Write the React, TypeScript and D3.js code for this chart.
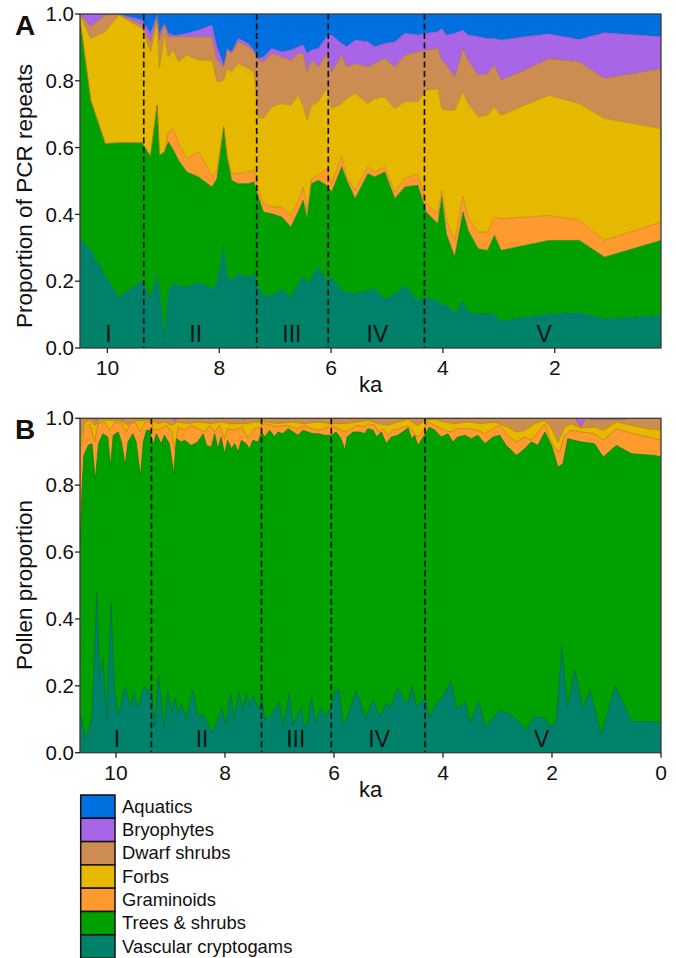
import React from "react";
import * as d3 from "d3";

// ---------- categories / styling ----------
const taxa = ["Aquatics", "Bryophytes", "Dwarf shrubs", "Forbs", "Graminoids", "Trees & shrubs", "Vascular cryptogams"];
const taxaColors = ["#0070e0", "#a866e6", "#cc8c52", "#e6b800", "#ff9a2e", "#00a000", "#00826a"];

const zoneLabels = ["I", "II", "III", "IV", "V"];
const zoneLabelKa = [9.98, 8.42, 6.7, 5.17, 2.19];
const zoneBoundsKa = [9.35, 7.33, 6.05, 4.33];

const yTicks = [0, 0.2, 0.4, 0.6, 0.8, 1.0];
const xTicksA = [10, 8, 6, 4, 2];
const xTicksB = [10, 8, 6, 4, 2, 0];

// ---------- Panel A: proportion of PCR repeats (per taxon) ----------
const pcrKa = [10.49, 10.3, 10.04, 9.8, 9.38, 9.23, 9.11, 9.07, 8.98, 8.91, 8.82, 8.73, 8.58, 8.37, 8.13, 8.04, 7.92, 7.86, 7.78, 7.66, 7.48, 7.38, 7.3, 7.21, 7.06, 6.88, 6.72, 6.59, 6.5, 6.43, 6.35, 6.23, 6.08, 5.99, 5.81, 5.72, 5.57, 5.34, 5.22, 5.04, 4.86, 4.68, 4.45, 4.3, 4.09, 4.02, 3.94, 3.79, 3.64, 3.55, 3.37, 3.2, 3.08, 2.96, 2.54, 2.1, 1.56, 1.11, 0.1];
const pcrVascular = [0.328, 0.293, 0.217, 0.152, 0.202, 0.152, 0.217, 0.172, 0.032, 0.172, 0.192, 0.187, 0.182, 0.197, 0.177, 0.197, 0.302, 0.212, 0.202, 0.222, 0.212, 0.222, 0.182, 0.157, 0.157, 0.177, 0.152, 0.192, 0.217, 0.192, 0.212, 0.242, 0.202, 0.212, 0.172, 0.167, 0.162, 0.172, 0.177, 0.147, 0.162, 0.187, 0.142, 0.152, 0.142, 0.127, 0.132, 0.102, 0.142, 0.107, 0.102, 0.102, 0.1, 0.082, 0.092, 0.102, 0.107, 0.087, 0.097];
const pcrTrees = [0.652, 0.449, 0.395, 0.462, 0.412, 0.422, 0.51, 0.405, 0.555, 0.445, 0.4, 0.375, 0.345, 0.315, 0.305, 0.31, 0.36, 0.36, 0.3, 0.27, 0.28, 0.275, 0.27, 0.25, 0.245, 0.215, 0.21, 0.215, 0.225, 0.195, 0.28, 0.26, 0.285, 0.255, 0.37, 0.335, 0.285, 0.35, 0.335, 0.38, 0.285, 0.295, 0.345, 0.255, 0.23, 0.325, 0.21, 0.17, 0.265, 0.245, 0.195, 0.19, 0.237, 0.21, 0.215, 0.22, 0.215, 0.185, 0.225];
const pcrGraminoids = [0, 0, 0, 0, 0, 0, 0, 0, 0, 0.03, 0.065, 0.05, 0.04, 0.075, 0.035, 0.025, 0, 0, 0.02, 0.03, 0.035, 0.035, 0.02, 0.025, 0.02, 0.03, 0.035, 0.03, 0.04, 0.025, 0.015, 0.015, 0.05, 0.025, 0.03, 0.01, 0.025, 0.02, 0.015, 0.015, 0.02, 0.025, 0.035, 0.025, 0.03, 0.02, 0.04, 0.05, 0.045, 0.04, 0.05, 0.055, 0.055, 0.095, 0.085, 0.075, 0.06, 0.05, 0.055];
const pcrForbs = [0.015, 0.185, 0.335, 0.383, 0.343, 0.313, 0.248, 0.26, 0.353, 0.225, 0.235, 0.245, 0.31, 0.275, 0.345, 0.265, 0.14, 0.265, 0.305, 0.33, 0.31, 0.295, 0.22, 0.255, 0.3, 0.31, 0.33, 0.32, 0.245, 0.27, 0.22, 0.22, 0.24, 0.225, 0.16, 0.235, 0.29, 0.19, 0.22, 0.21, 0.25, 0.23, 0.215, 0.34, 0.375, 0.245, 0.33, 0.39, 0.315, 0.34, 0.345, 0.35, 0.33, 0.31, 0.335, 0.36, 0.35, 0.365, 0.28];
const pcrDwarfShrubs = [0.005, 0.035, 0.05, 0.003, 0.01, 0.03, 0.015, 0.085, 0.027, 0.06, 0.04, 0.075, 0.055, 0.07, 0.07, 0.065, 0.04, 0.055, 0.055, 0.065, 0.065, 0.06, 0.17, 0.17, 0.16, 0.14, 0.135, 0.125, 0.155, 0.145, 0.135, 0.105, 0.105, 0.11, 0.145, 0.095, 0.09, 0.11, 0.105, 0.115, 0.125, 0.14, 0.15, 0.12, 0.12, 0.145, 0.135, 0.1, 0.13, 0.13, 0.125, 0.125, 0.125, 0.105, 0.105, 0.11, 0.125, 0.12, 0.18];
const pcrBryophytes = [0, 0.038, 0.003, 0, 0.015, 0.025, 0.008, 0.02, 0.005, 0.01, 0.005, 0.005, 0.01, 0.02, 0.035, 0.04, 0.005, 0.005, 0.005, 0.01, 0.01, 0.005, 0.005, 0.015, 0.015, 0.015, 0.03, 0.02, 0.025, 0.055, 0.03, 0.055, 0.05, 0.11, 0.035, 0.06, 0.07, 0.075, 0.05, 0.045, 0.075, 0.065, 0.05, 0.05, 0.05, 0.095, 0.09, 0.13, 0.055, 0.075, 0.115, 0.105, 0.08, 0.12, 0.1, 0.073, 0.067, 0.137, 0.095];
const pcrAquatics = [0, 0, 0, 0, 0.018, 0.058, 0.002, 0.058, 0.028, 0.058, 0.063, 0.063, 0.058, 0.048, 0.033, 0.098, 0.153, 0.103, 0.113, 0.073, 0.088, 0.108, 0.133, 0.128, 0.103, 0.113, 0.108, 0.098, 0.093, 0.118, 0.108, 0.103, 0.068, 0.063, 0.088, 0.098, 0.078, 0.083, 0.098, 0.088, 0.083, 0.058, 0.063, 0.058, 0.053, 0.043, 0.063, 0.058, 0.048, 0.063, 0.068, 0.073, 0.073, 0.078, 0.068, 0.06, 0.076, 0.056, 0.068];

// ---------- Panel B: pollen proportion (cumulative upper edge of each taxon band) ----------
const pollenVascularKa = [10.66, 10.56, 10.44, 10.35, 10.3, 10.24, 10.17, 10.09, 10.03, 9.96, 9.83, 9.74, 9.67, 9.6, 9.48, 9.41, 9.35, 9.29, 9.22, 9.12, 9.05, 8.98, 8.91, 8.86, 8.81, 8.71, 8.59, 8.5, 8.4, 8.23, 8.06, 7.99, 7.89, 7.83, 7.74, 7.68, 7.61, 7.54, 7.48, 7.37, 7.32, 7.27, 7.19, 7.13, 7.01, 6.93, 6.82, 6.75, 6.69, 6.6, 6.55, 6.49, 6.41, 6.34, 6.25, 6.17, 6.1, 6.05, 5.98, 5.91, 5.84, 5.76, 5.59, 5.42, 5.28, 5.16, 5.04, 4.97, 4.83, 4.7, 4.63, 4.57, 4.49, 4.33, 4.25, 4.12, 3.98, 3.86, 3.74, 3.6, 3.5, 3.35, 3.22, 2.95, 2.71, 2.48, 2.32, 2.13, 2.02, 1.92, 1.82, 1.72, 1.58, 1.44, 1.3, 1.1, 0.84, 0.54, 0.14, 0];
const pollenVascularTop = [0.12, 0.04, 0.103, 0.482, 0.217, 0.282, 0.103, 0.447, 0.187, 0.113, 0.197, 0.138, 0.177, 0.133, 0.199, 0.177, 0.197, 0.078, 0.232, 0.073, 0.187, 0.123, 0.163, 0.113, 0.148, 0.103, 0.187, 0.108, 0.113, 0.058, 0.133, 0.083, 0.177, 0.098, 0.182, 0.123, 0.177, 0.138, 0.172, 0.128, 0.167, 0.098, 0.108, 0.118, 0.153, 0.078, 0.177, 0.078, 0.108, 0.133, 0.078, 0.088, 0.167, 0.088, 0.133, 0.108, 0.123, 0.133, 0.187, 0.187, 0.088, 0.103, 0.187, 0.103, 0.158, 0.108, 0.148, 0.133, 0.192, 0.153, 0.153, 0.199, 0.138, 0.163, 0.103, 0.148, 0.172, 0.217, 0.128, 0.153, 0.088, 0.153, 0.078, 0.128, 0.108, 0.068, 0.108, 0.103, 0.078, 0.093, 0.317, 0.133, 0.247, 0.133, 0.187, 0.053, 0.199, 0.093, 0.093, 0.09];

const pollenTreesKa = [10.66, 10.62, 10.59, 10.51, 10.44, 10.38, 10.32, 10.24, 10.15, 10.1, 10.05, 9.96, 9.9, 9.83, 9.78, 9.69, 9.63, 9.55, 9.5, 9.44, 9.38, 9.32, 9.26, 9.17, 9.11, 9.02, 8.94, 8.89, 8.8, 8.74, 8.62, 8.5, 8.4, 8.34, 8.25, 8.19, 8.13, 8.07, 8.01, 7.95, 7.88, 7.82, 7.76, 7.7, 7.61, 7.55, 7.49, 7.39, 7.33, 7.27, 7.18, 7.09, 7.03, 6.94, 6.84, 6.75, 6.66, 6.57, 6.48, 6.39, 6.29, 6.17, 6.05, 5.96, 5.87, 5.8, 5.76, 5.65, 5.53, 5.44, 5.38, 5.28, 5.22, 5.13, 5.04, 4.95, 4.83, 4.7, 4.64, 4.58, 4.52, 4.46, 4.4, 4.32, 4.25, 4.15, 4.03, 3.91, 3.82, 3.73, 3.6, 3.48, 3.36, 3.23, 3.08, 2.96, 2.84, 2.65, 2.5, 2.38, 2.26, 2.13, 2.01, 1.89, 1.8, 1.71, 1.46, 1.22, 1.06, 0.82, 0.54, 0.12, 0];
const pollenTreesTop = [0.63, 0.8, 0.889, 0.919, 0.924, 0.815, 0.924, 0.954, 0.944, 0.854, 0.949, 0.959, 0.929, 0.859, 0.929, 0.954, 0.929, 0.825, 0.929, 0.964, 0.964, 0.919, 0.954, 0.924, 0.949, 0.924, 0.834, 0.939, 0.929, 0.934, 0.919, 0.929, 0.954, 0.919, 0.914, 0.954, 0.909, 0.944, 0.894, 0.934, 0.909, 0.924, 0.899, 0.934, 0.924, 0.909, 0.934, 0.929, 0.959, 0.944, 0.964, 0.944, 0.959, 0.954, 0.969, 0.959, 0.949, 0.964, 0.959, 0.954, 0.954, 0.949, 0.949, 0.959, 0.939, 0.904, 0.944, 0.959, 0.959, 0.954, 0.969, 0.964, 0.944, 0.959, 0.924, 0.944, 0.949, 0.964, 0.971, 0.939, 0.949, 0.919, 0.934, 0.954, 0.974, 0.964, 0.944, 0.954, 0.929, 0.944, 0.949, 0.939, 0.949, 0.924, 0.944, 0.949, 0.919, 0.889, 0.909, 0.929, 0.919, 0.959, 0.919, 0.854, 0.864, 0.939, 0.929, 0.924, 0.884, 0.919, 0.894, 0.889, 0.884];

const pollenGraminoidsKa = [10.66, 10.57, 10.48, 10.39, 10.33, 10.21, 10.12, 10.02, 9.9, 9.81, 9.72, 9.63, 9.55, 9.47, 9.35, 9.29, 9.17, 9.08, 8.98, 8.92, 8.86, 8.74, 8.62, 8.5, 8.37, 8.28, 8.19, 8.1, 8.01, 7.95, 7.82, 7.7, 7.58, 7.46, 7.36, 7.27, 7.15, 7.03, 6.9, 6.78, 6.66, 6.54, 6.42, 6.29, 6.17, 6.05, 5.93, 5.8, 5.68, 5.56, 5.44, 5.38, 5.25, 5.19, 5.1, 5.01, 4.92, 4.8, 4.7, 4.64, 4.58, 4.46, 4.37, 4.28, 4.15, 3.97, 3.85, 3.73, 3.54, 3.36, 3.23, 3.08, 2.96, 2.81, 2.65, 2.5, 2.38, 2.26, 2.13, 2.04, 1.95, 1.86, 1.77, 1.65, 1.46, 1.22, 1.06, 0.82, 0.54, 0];
const pollenGraminoidsTop = [0.905, 0.969, 0.984, 0.929, 0.984, 0.989, 0.964, 0.989, 0.984, 0.959, 0.989, 0.984, 0.959, 0.989, 0.989, 0.964, 0.969, 0.979, 0.959, 0.904, 0.974, 0.964, 0.979, 0.969, 0.959, 0.979, 0.959, 0.979, 0.939, 0.969, 0.964, 0.974, 0.939, 0.969, 0.974, 0.984, 0.979, 0.974, 0.979, 0.974, 0.969, 0.979, 0.969, 0.964, 0.969, 0.979, 0.969, 0.959, 0.969, 0.979, 0.974, 0.984, 0.979, 0.959, 0.969, 0.949, 0.964, 0.969, 0.974, 0.978, 0.964, 0.944, 0.959, 0.989, 0.979, 0.964, 0.959, 0.969, 0.969, 0.964, 0.954, 0.969, 0.979, 0.949, 0.929, 0.944, 0.934, 0.959, 0.984, 0.939, 0.909, 0.899, 0.949, 0.964, 0.959, 0.954, 0.934, 0.969, 0.955, 0.935];

const pollenForbsKa = [10.66, 10.57, 10.48, 10.39, 10.27, 10.09, 9.9, 9.78, 9.66, 9.47, 9.35, 9.23, 9.11, 8.98, 8.86, 8.68, 8.5, 8.25, 8.07, 7.88, 7.64, 7.46, 7.27, 7.03, 6.78, 6.54, 6.29, 6.05, 5.8, 5.56, 5.38, 5.19, 5.01, 4.83, 4.64, 4.46, 4.31, 4.15, 3.97, 3.79, 3.54, 3.3, 3.05, 2.81, 2.65, 2.5, 2.32, 2.13, 2.01, 1.89, 1.77, 1.65, 1.46, 1.22, 1.06, 0.82, 0.54, 0.24, 0];
const pollenForbsTop = [0.93, 0.989, 0.994, 0.979, 0.994, 0.994, 0.991, 0.981, 0.991, 0.994, 0.994, 0.984, 0.989, 0.979, 0.989, 0.984, 0.989, 0.984, 0.989, 0.984, 0.984, 0.989, 0.989, 0.984, 0.989, 0.984, 0.989, 0.984, 0.984, 0.989, 0.994, 0.984, 0.979, 0.989, 0.997, 0.979, 0.994, 0.997, 0.989, 0.984, 0.989, 0.984, 0.989, 0.974, 0.959, 0.964, 0.984, 0.994, 0.969, 0.929, 0.974, 0.984, 0.97, 0.974, 0.964, 0.989, 0.979, 0.969, 0.965];

const pollenDwarfKa = [10.66, 10.4, 10.36, 10.32, 9.92, 9.88, 9.84, 8.96, 8.92, 8.88, 7.7, 7.66, 7.62, 1.58, 1.47, 1.38, 1.25, 0.7, 0.6, 0];
const pollenDwarfTop = [1, 1, 0.993, 1, 1, 0.994, 1, 1, 0.99, 1, 1, 0.995, 1, 1, 0.975, 1, 0.996, 0.996, 1, 1];

const pollenBryoKa = [10.66, 0];
const pollenBryoTop = [1, 1];

// ---------- layout ----------
const FONT = "'Liberation Sans', Arial, Helvetica, sans-serif";
const PA = { left: 80, right: 661, top: 14, bottom: 348 };
const PB = { left: 80, right: 661, top: 418.3, bottom: 752.7 };

function colorOf(name: string) {
  return taxaColors[taxa.indexOf(name)];
}
function darker(c: string, k = 0.8) {
  return d3.color(c)!.darker(k).formatHex();
}

function Axes({ p, x, y, xTicks, yTitle, letter, titleY }: any) {
  const cx = (p.left + p.right) / 2;
  return (
    <g fontFamily={FONT} fill="#111">
      {zoneBoundsKa.map((k, i) => (
        <line key={"d" + i} x1={x(k)} x2={x(k)} y1={p.top} y2={p.bottom} stroke="#111" strokeWidth={1.7} strokeDasharray="6,3.5" />
      ))}
      {zoneLabels.map((t, i) => (
        <text key={"z" + i} x={x(zoneLabelKa[i])} y={p.bottom - 6} fontSize={23} textAnchor="middle">{t}</text>
      ))}
      <rect x={p.left} y={p.top} width={p.right - p.left} height={p.bottom - p.top} fill="none" stroke="#3a3a3a" strokeWidth={1.3} />
      {yTicks.map((t) => (
        <g key={"y" + t}>
          <line x1={p.left - 5} x2={p.left} y1={y(t)} y2={y(t)} stroke="#222" strokeWidth={1.3} />
          <text x={p.left - 6} y={y(t)} dy="0.35em" fontSize={20.5} textAnchor="end">{t.toFixed(1)}</text>
        </g>
      ))}
      {xTicks.map((t: number) => (
        <g key={"x" + t}>
          <line x1={x(t)} x2={x(t)} y1={p.bottom} y2={p.bottom + 5} stroke="#222" strokeWidth={1.3} />
          <text x={x(t)} y={p.bottom + 27} fontSize={21} textAnchor="middle">{t}</text>
        </g>
      ))}
      <text x={cx} y={p.bottom + 44} fontSize={22} textAnchor="middle">ka</text>
      <text transform={`translate(32,${titleY}) rotate(-90)`} fontSize={22.5} textAnchor="middle">{yTitle}</text>
      <text x={15} y={p.top + 21} fontSize={28} fontWeight="bold">{letter}</text>
    </g>
  );
}

export default function App() {
  // Panel A (stacked proportions)
  const xA = d3.scaleLinear().domain([10.49, 0.1]).range([PA.left, PA.right]);
  const yA = d3.scaleLinear().domain([0, 1]).range([PA.bottom, PA.top]);
  const stackKeys = ["Vascular cryptogams", "Trees & shrubs", "Graminoids", "Forbs", "Dwarf shrubs", "Bryophytes", "Aquatics"];
  const pcrSeries: Record<string, number[]> = {
    "Vascular cryptogams": pcrVascular,
    "Trees & shrubs": pcrTrees,
    Graminoids: pcrGraminoids,
    Forbs: pcrForbs,
    "Dwarf shrubs": pcrDwarfShrubs,
    Bryophytes: pcrBryophytes,
    Aquatics: pcrAquatics,
  };
  const rows = pcrKa.map((ka, i) => {
    const r: any = { ka };
    stackKeys.forEach((k) => (r[k] = pcrSeries[k][i]));
    return r;
  });
  const stacked = d3.stack<any>().keys(stackKeys)(rows);
  const areaA = d3
    .area<any>()
    .x((d) => xA(d.data.ka))
    .y0((d) => yA(d[0]))
    .y1((d) => yA(Math.min(1, d[1])));
  const lineA = d3
    .line<any>()
    .x((d) => xA(d.data.ka))
    .y((d) => yA(Math.min(1, d[1])));

  // Panel B (cumulative upper edges, painted back to front)
  const xB = d3.scaleLinear().domain([10.66, 0]).range([PB.left, PB.right]);
  const yB = d3.scaleLinear().domain([0, 1]).range([PB.bottom, PB.top]);
  const pollenLayers = [
    { key: "Bryophytes", ka: pollenBryoKa, top: pollenBryoTop },
    { key: "Dwarf shrubs", ka: pollenDwarfKa, top: pollenDwarfTop },
    { key: "Forbs", ka: pollenForbsKa, top: pollenForbsTop },
    { key: "Graminoids", ka: pollenGraminoidsKa, top: pollenGraminoidsTop },
    { key: "Trees & shrubs", ka: pollenTreesKa, top: pollenTreesTop },
    { key: "Vascular cryptogams", ka: pollenVascularKa, top: pollenVascularTop },
  ];

  return (
    <svg width={676} height={958} viewBox="0 0 676 958" style={{ position: "absolute", left: 0, top: 0, background: "#fff" }}>
      <defs>
        <clipPath id="clipA">
          <rect x={PA.left} y={PA.top} width={PA.right - PA.left} height={PA.bottom - PA.top} />
        </clipPath>
        <clipPath id="clipB">
          <rect x={PB.left} y={PB.top} width={PB.right - PB.left} height={PB.bottom - PB.top} />
        </clipPath>
      </defs>

      <g clipPath="url(#clipA)">
        {stacked.map((s) => (
          <path key={s.key} d={areaA(s as any) || ""} fill={colorOf(s.key)} />
        ))}
        {stacked
          .filter((s) => s.key !== "Aquatics")
          .map((s) => (
            <path key={"l" + s.key} d={lineA(s as any) || ""} fill="none" stroke={darker(colorOf(s.key))} strokeWidth={0.8} strokeOpacity={0.8} />
          ))}
      </g>
      <Axes p={PA} x={xA} y={yA} xTicks={xTicksA} yTitle="Proportion of PCR repeats" letter="A" titleY={196} />

      <g clipPath="url(#clipB)">
        {pollenLayers.map((L) => {
          const area = d3
            .area<number>()
            .x((_, i) => xB(L.ka[i]))
            .y0(yB(0))
            .y1((v) => yB(v));
          const line = d3
            .line<number>()
            .x((_, i) => xB(L.ka[i]))
            .y((v) => yB(v));
          return (
            <g key={L.key}>
              <path d={area(L.top) || ""} fill={colorOf(L.key)} />
              {L.key !== "Bryophytes" && (
                <path d={line(L.top) || ""} fill="none" stroke={darker(colorOf(L.key))} strokeWidth={0.8} strokeOpacity={0.8} />
              )}
            </g>
          );
        })}
      </g>
      <Axes p={PB} x={xB} y={yB} xTicks={xTicksB} yTitle="Pollen proportion" letter="B" titleY={585} />

      <g fontFamily={FONT}>
        {taxa.map((t, i) => {
          const y0 = 795 + i * 23.3;
          return (
            <g key={t}>
              <rect x={80.7} y={y0} width={34.3} height={23.3} fill={taxaColors[i]} stroke="#111" strokeWidth={1.5} />
              <text x={122} y={y0 + 17.7} fontSize={18.4} fill="#111">{t}</text>
            </g>
          );
        })}
      </g>
    </svg>
  );
}
